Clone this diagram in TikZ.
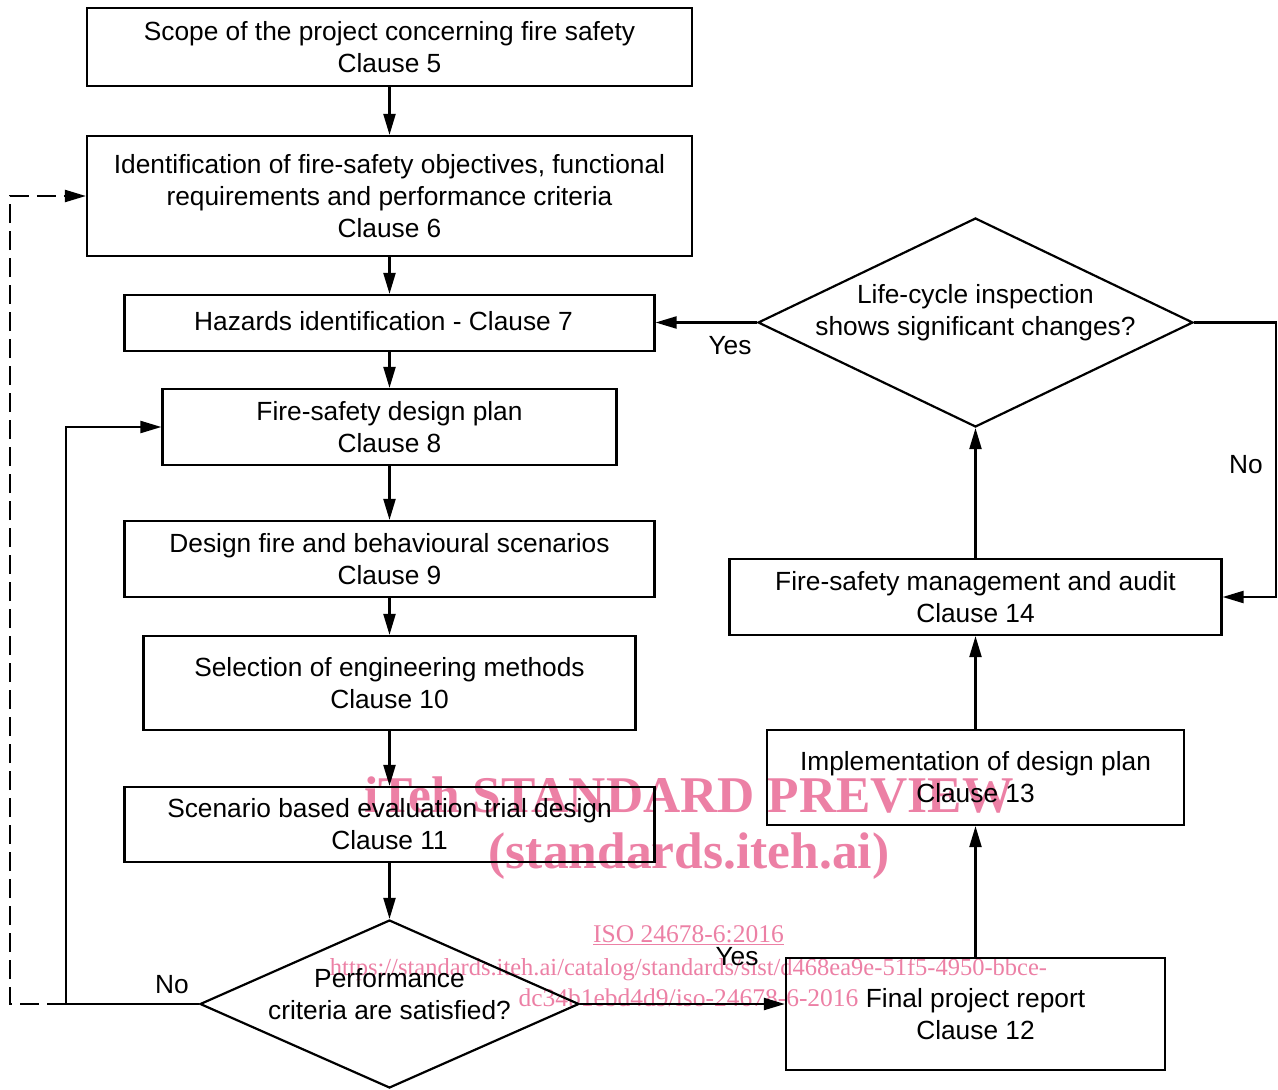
\documentclass[tikz,border=0pt]{standalone}
\usepackage{fontspec}
\setmainfont{Liberation Sans}
\newfontfamily\wmfont{Liberation Serif}
\usetikzlibrary{arrows.meta,shapes.geometric}
\definecolor{wmpink}{RGB}{236,128,165}
\begin{document}
\begin{tikzpicture}[x=1pt,y=-1pt,
  font=\fontsize{26.3}{32}\selectfont,
  box/.style={draw, line width=2.2pt, align=center, inner sep=0pt},
  dia/.style={draw, diamond, line width=2.2pt, inner sep=0pt},
  txt/.style={align=center, inner sep=0pt},
  flow/.style={line width=2.2pt, -{Triangle[length=21pt,width=12pt]}},
  dflow/.style={line width=2.2pt, dash pattern=on 19pt off 8pt, -{Triangle[length=21pt,width=12pt]}},
  wmbig/.style={text=wmpink, font=\wmfont\bfseries\fontsize{51.5}{56}\selectfont, inner sep=0pt},
  wmsmall/.style={text=wmpink, font=\wmfont\fontsize{25.5}{30}\selectfont, inner sep=0pt, anchor=base},
]
\useasboundingbox (0,0) rectangle (1278,1090);

% watermark
\node[wmbig] (w1) at (689,795) {iTeh STANDARD PREVIEW};
\node[wmbig] (w2) at (689,856) {(standards.iteh.ai)};
\node[wmsmall] (w3) at (688.5,942) {\underline{ISO 24678-6:2016}};
\node[wmsmall, font=\wmfont\fontsize{24.5}{30}\selectfont] (w4) at (688.5,975) {https://standards.iteh.ai/catalog/standards/sist/d468ea9e-51f5-4950-bbce-};
\node[wmsmall] (w5) at (688.5,1006) {dc34b1ebd4d9/iso-24678-6-2016};

% boxes
\node[box, minimum width=605pt, minimum height=78pt] (b1) at (389.5,47) {Scope of the project concerning fire safety\\Clause 5};
\node[box, minimum width=605pt, minimum height=120pt] (b2) at (389.5,196) {Identification of fire-safety objectives, functional\\requirements and performance criteria\\Clause 6};
\node[box, minimum width=530pt, minimum height=56pt] (b3) at (389.5,323) {};
\node[txt] (t3) at (383.5,321) {Hazards identification - Clause 7};
\node[box, minimum width=454pt, minimum height=76pt] (b4) at (389.5,427) {Fire-safety design plan\\Clause 8};
\node[box, minimum width=530pt, minimum height=76pt] (b5) at (389.5,559) {Design fire and behavioural scenarios\\Clause 9};
\node[box, minimum width=492pt, minimum height=94pt] (b6) at (389.5,683) {Selection of engineering methods\\Clause 10};
\node[box, minimum width=530pt, minimum height=75pt] (b7) at (389.5,824.5) {Scenario based evaluation trial design\\Clause 11};
\node[dia, minimum width=379pt, minimum height=168pt] (d1) at (389.5,1004) {};
\node[txt] (t1) at (389.5,994) {Performance\\criteria are satisfied?};

\node[box, minimum width=379pt, minimum height=112pt] (b8) at (975.5,1014) {Final project report\\Clause 12};
\node[box, minimum width=417pt, minimum height=95pt] (b9) at (975.5,777.5) {Implementation of design plan\\Clause 13};
\node[box, minimum width=492pt, minimum height=76pt] (b10) at (975.5,597) {Fire-safety management and audit\\Clause 14};
\node[dia, minimum width=435pt, minimum height=209pt] (d2) at (975.5,322.5) {};
\node[txt] (t2) at (975.5,313) {Life-cycle inspection\\shows significant changes?};

% connectors
\draw[flow] (b1) -- (b2);
\draw[flow] (b2) -- (b3);
\draw[flow] (b3) -- (b4);
\draw[flow] (b4) -- (b5);
\draw[flow] (b5) -- (b6);
\draw[flow] (b6) -- (b7);
\draw[flow] (b7) -- (d1);
\draw[flow] (d1.west) -- ++(-133,0) coordinate (c1) |- (b4.west);
\draw[dflow] (c1) -- ++(-56,0) |- (b2.west);
\draw[flow] (d1.east) -- (d1.east -| b8.west);
\draw[flow] (b8) -- (b9);
\draw[flow] (b9) -- (b10);
\draw[flow] (b10) -- (d2);
\draw[flow] (d2.west) -- (d2.west -| b3.east);
\draw[flow] (d2.east) -- ++(82,0) |- (b10.east);

% labels
\node[txt] (l1) at (172,985) {No};
\node[txt] (l2) at (737,957) {Yes};
\node[txt] (l3) at (730,346) {Yes};
\node[txt] (l4) at (1246,465) {No};
\end{tikzpicture}
\end{document}
